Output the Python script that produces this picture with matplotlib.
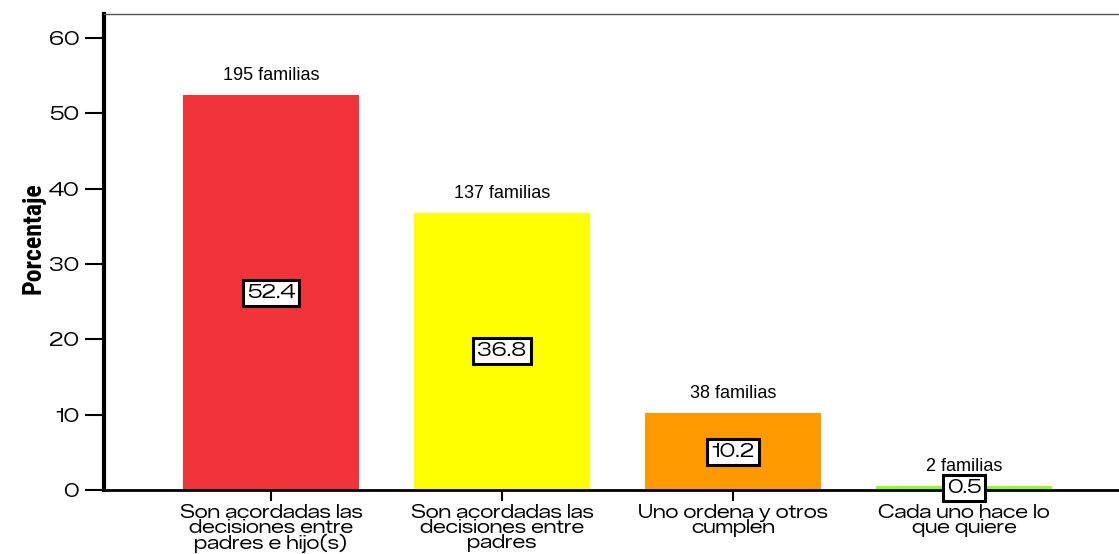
import matplotlib
matplotlib.use("Agg")
import matplotlib.pyplot as plt
import numpy as np

categories = [
    "Son acordadas las\ndecisiones entre\npadres e hijo(s)",
    "Son acordadas las\ndecisiones entre\npadres",
    "Uno ordena y otros\ncumplen",
    "Cada uno hace lo\nque quiere",
]
percentages = [52.4, 36.8, 10.2, 0.5]
families = [195, 137, 38, 2]
bar_colors = ["#F0343A", "#FFFF00", "#FF9900", "#99FF00"]

WIDE = ["Zalando Sans Expanded", "Encode Sans Expanded", "DejaVu Sans"]

fig = plt.figure(figsize=(11.19, 5.54), dpi=100)
ax = fig.add_axes([104 / 1119, 1 - 490 / 554, 1 - 104 / 1119, (490 - 14) / 554])

x = np.arange(len(categories))
ax.bar(x, percentages, width=0.76, color=bar_colors, zorder=2)

# counts above bars
for xi, val, n in zip(x, percentages, families):
    ax.annotate(f"{n} familias", (xi, val), xytext=(0, 8), textcoords="offset points",
                ha="center", va="bottom", fontsize=13, family="Liberation Sans")

# percentage boxes at mid height
for xi, val in zip(x, percentages):
    ax.text(xi, val / 2, f"{val:.1f}", ha="center", va="center", fontsize=13,
            family=WIDE, zorder=4,
            bbox=dict(boxstyle="square,pad=0.22", facecolor="white",
                      edgecolor="black", linewidth=2.2))

ax.set_xlim(-0.723, 3.671)
ax.set_ylim(0, 63.2)
ax.set_yticks([0, 10, 20, 30, 40, 50, 60])
ax.set_xticks(x)
ax.set_xticklabels(categories, fontsize=12.8, family=WIDE, linespacing=0.8)
for lbl in ax.get_yticklabels():
    lbl.set_fontsize(13)
    lbl.set_family(WIDE)

ax.tick_params(axis="y", length=14, width=1.5, pad=4)
ax.tick_params(axis="x", length=8, width=1.5, pad=2)

ax.set_ylabel("Porcentaje", fontsize=18.5, fontweight="bold",
              family=["Roboto Condensed", "DejaVu Sans"])
ax.yaxis.set_label_coords(-0.058, 0.53)

ax.spines["right"].set_visible(False)
ax.spines["left"].set_linewidth(3)
ax.spines["bottom"].set_linewidth(2)
ax.spines["top"].set_linewidth(1)
ax.spines["top"].set_color("#555555")

fig.savefig("out.png", dpi=100)
